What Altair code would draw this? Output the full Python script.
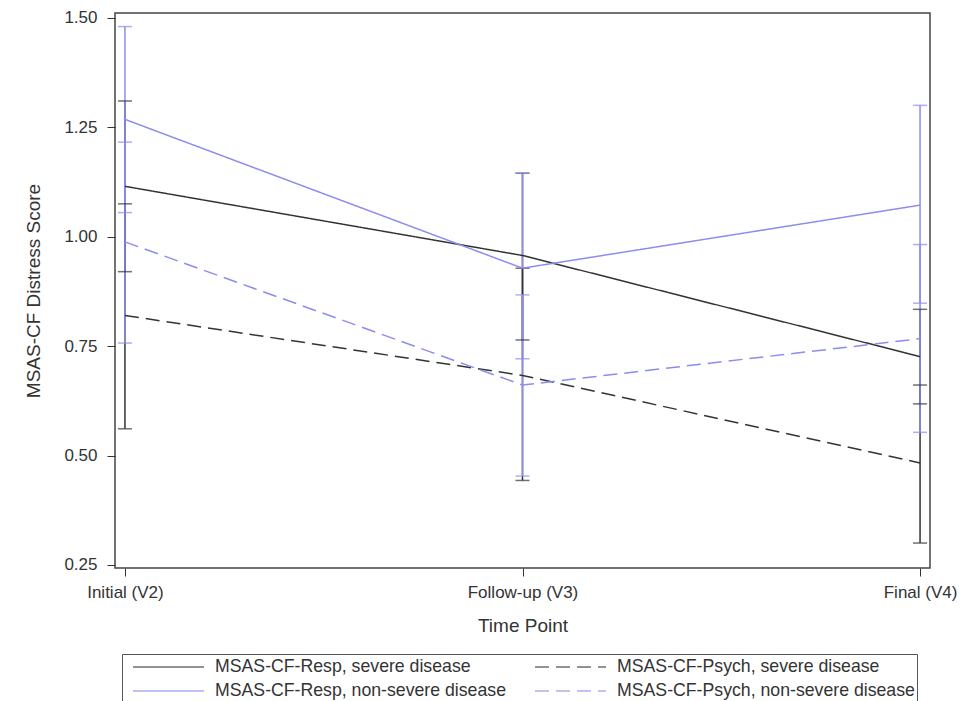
import altair as alt
import pandas as pd

# ---- data ----
time_labels = ["Initial (V2)", "Follow-up (V3)", "Final (V4)"]
time_pos = [0, 1, 2]

series_names = [
    "MSAS-CF-Resp, severe disease",
    "MSAS-CF-Psych, severe disease",
    "MSAS-CF-Resp, non-severe disease",
    "MSAS-CF-Psych, non-severe disease",
]
# drawing order (later drawn on top)
draw_order = [0, 2, 1, 3]

resp_severe_mean = [1.115, 0.957, 0.726]
resp_severe_lo = [0.920, 0.764, 0.618]
resp_severe_hi = [1.310, 1.145, 0.834]

psych_severe_mean = [0.820, 0.683, 0.483]
psych_severe_lo = [0.561, 0.443, 0.300]
psych_severe_hi = [1.075, 0.928, 0.661]

resp_nonsev_mean = [1.268, 0.928, 1.072]
resp_nonsev_lo = [1.055, 0.721, 0.848]
resp_nonsev_hi = [1.480, 1.145, 1.300]

psych_nonsev_mean = [0.988, 0.661, 0.767]
psych_nonsev_lo = [0.757, 0.453, 0.553]
psych_nonsev_hi = [1.216, 0.867, 0.982]

means = [resp_severe_mean, psych_severe_mean, resp_nonsev_mean, psych_nonsev_mean]
los = [resp_severe_lo, psych_severe_lo, resp_nonsev_lo, psych_nonsev_lo]
his = [resp_severe_hi, psych_severe_hi, resp_nonsev_hi, psych_nonsev_hi]

y_ticks = [0.25, 0.50, 0.75, 1.00, 1.25, 1.50]

rows = []
for k, s in enumerate(draw_order):
    for i, t in enumerate(time_pos):
        rows.append({
            "series": series_names[s],
            "order": k,
            "t": t,
            "mean": means[s][i],
            "lo": los[s][i],
            "hi": his[s][i],
        })
df = pd.DataFrame(rows)

BLACK = "#333333"
BLUE = "#8c8cf0"
FONT = "Liberation Sans"

color_scale = alt.Scale(domain=series_names, range=[BLACK, BLACK, BLUE, BLUE])
dash_scale = alt.Scale(domain=series_names, range=[[1, 0], [14, 7], [1, 0], [14, 7]])

x_scale = alt.Scale(domain=[-0.025, 2.025], nice=False, zero=False)
y_scale = alt.Scale(domain=[0.243, 1.511], nice=False, zero=False)

label_expr = "datum.value == 0 ? 'Initial (V2)' : datum.value == 1 ? 'Follow-up (V3)' : 'Final (V4)'"

x_enc = alt.X("t:Q", scale=x_scale, title="Time Point",
              axis=alt.Axis(values=time_pos, labelExpr=label_expr, grid=False,
                            tickSize=8, labelPadding=8, titlePadding=16,
                            labelFontSize=17, titleFontSize=19, labelFont=FONT,
                            titleFont=FONT, titleFontWeight="normal",
                            labelColor="#333", titleColor="#333",
                            domain=False, tickColor="#333"))

legend = alt.Legend(title=None, orient="none", legendX=7, legendY=641,
                    direction="horizontal", columns=2,
                    symbolType="stroke", symbolSize=5041, clipHeight=22,
                    symbolOffset=8, symbolStrokeWidth=1.5, labelFont=FONT,
                    labelFontSize=17.7, labelColor="#333", labelLimit=500,
                    strokeColor="#555", padding=2,
                    columnPadding=20, rowPadding=2, labelOffset=10)

base = alt.Chart(df)

rules = base.mark_rule(strokeWidth=1.5).encode(
    x=alt.X("t:Q", scale=x_scale),
    y=alt.Y("lo:Q", scale=y_scale),
    y2="hi:Q",
    color=alt.Color("series:N", scale=color_scale),
    order=alt.Order("order:Q"),
)

caps_lo = base.mark_tick(orient="horizontal", size=14, thickness=1.5).encode(
    x=alt.X("t:Q", scale=x_scale),
    y=alt.Y("lo:Q", scale=y_scale),
    color=alt.Color("series:N", scale=color_scale),
    order=alt.Order("order:Q"),
)
caps_hi = base.mark_tick(orient="horizontal", size=14, thickness=1.5).encode(
    x=alt.X("t:Q", scale=x_scale),
    y=alt.Y("hi:Q", scale=y_scale),
    color=alt.Color("series:N", scale=color_scale),
    order=alt.Order("order:Q"),
)

lines = base.mark_line(strokeWidth=1.5).encode(
    x=x_enc,
    y=alt.Y("mean:Q", scale=y_scale, title="MSAS-CF Distress Score",
            axis=alt.Axis(values=y_ticks, format=".2f", grid=False,
                          tickSize=8, labelPadding=10, titlePadding=20,
                          labelFontSize=17, titleFontSize=19, labelFont=FONT,
                          titleFont=FONT, titleFontWeight="normal",
                          labelColor="#333", titleColor="#333",
                          domain=False, tickColor="#333")),
    color=alt.Color("series:N", scale=color_scale, legend=legend),
    strokeDash=alt.StrokeDash("series:N", scale=dash_scale, legend=legend),
    detail="series:N",
)

chart = alt.layer(rules, caps_lo, caps_hi, lines).properties(
    width=815, height=555,
    autosize=alt.AutoSizeParams(type="none"),
    padding={"left": 107, "top": 5, "right": 30, "bottom": 133},
).configure_view(stroke="#444", strokeWidth=1.5)

chart.save("out.html", embed_options={"renderer": "svg", "actions": False})
